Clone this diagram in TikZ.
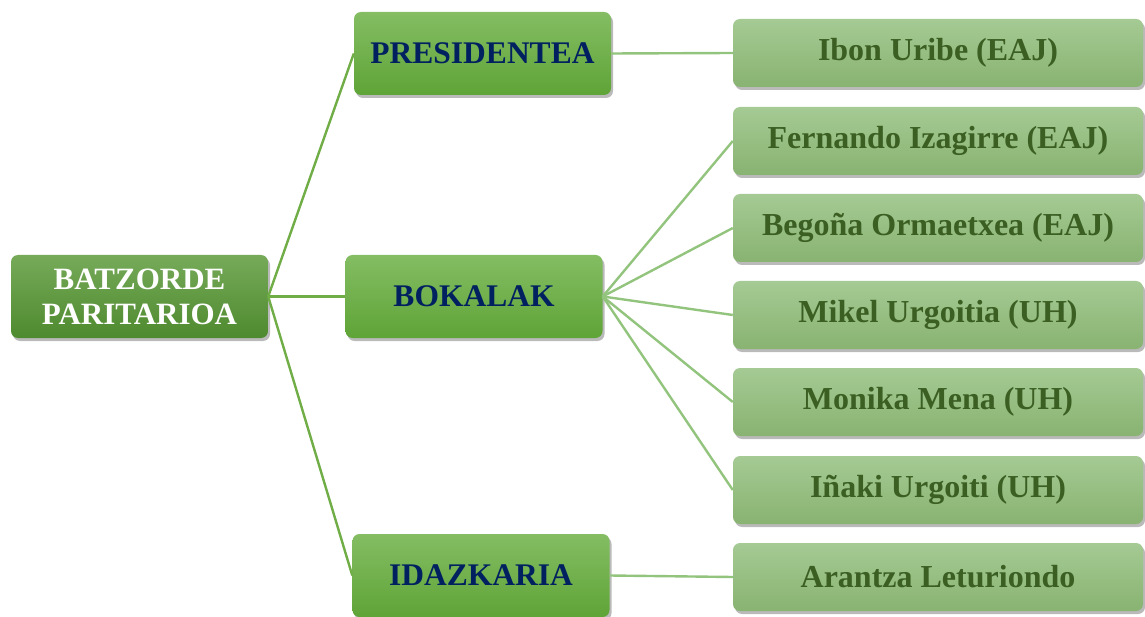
\documentclass[tikz,border=0pt]{standalone}
\usepackage{fontspec}
\setmainfont{Liberation Serif}
\usetikzlibrary{shadows,positioning}
\definecolor{erroberdea}{HTML}{5E9B3C}
\definecolor{erroberdeilun}{HTML}{4E8A2E}
\definecolor{kargugoi}{HTML}{84BD63}
\definecolor{kargubehe}{HTML}{5FA437}
\definecolor{kidegoi}{HTML}{A5CA94}
\definecolor{kidebehe}{HTML}{88B371}
\definecolor{urdinilun}{HTML}{002060}
\definecolor{berdeilun}{HTML}{3B5E23}
\definecolor{lerroa}{HTML}{70AD47}
\definecolor{lerroargi}{HTML}{93C47D}

\begin{document}
\begin{tikzpicture}[x=1pt,y=-1pt]
%
% Styles
%
\tikzset{kutxa/.style={rounded corners=7pt, align=center, inner sep=0pt,%
    drop shadow={shadow xshift=2pt, shadow yshift=-3pt, opacity=0.45, fill=black!60}}};%
\tikzset{erroa/.style={kutxa, top color=erroberdea!85!white, bottom color=erroberdeilun,%
    minimum width=257pt, minimum height=83pt, text=white,%
    font=\fontsize{31}{35}\selectfont\bfseries}};%
\tikzset{kargua/.style={kutxa, top color=kargugoi, bottom color=kargubehe,%
    minimum width=257pt, minimum height=83pt, text=urdinilun,%
    font=\fontsize{31.5}{36}\selectfont\bfseries}};%
\tikzset{kidea/.style={kutxa, top color=kidegoi, bottom color=kidebehe,%
    minimum width=410pt, minimum height=68pt, text=berdeilun,%
    font=\fontsize{32}{36}\selectfont\bfseries}};%
\tikzset{lotura/.style={lerroa, line width=2.4pt}};%
\tikzset{lotura argi/.style={lerroargi, line width=2.4pt}};%

%
% Macros
%
\pgfmathsetmacro{\kidex}{938}%
\pgfmathsetmacro{\erdiy}{296.5}%

\useasboundingbox (0,0) rectangle (1145,617);%

%
% Boxes
%
\node[erroa] (batzordea) at (139.5,\erdiy) {BATZORDE\\PARITARIOA};%
\node[kargua] (presidentea) at (482.5,53.5) {PRESIDENTEA};%
\node[kargua] (bokalak) at (474,\erdiy) {BOKALAK};%
\node[kargua] (idazkaria) at (481,575.5) {IDAZKARIA};%

\node[kidea] (ibon) at (\kidex,53) {Ibon Uribe (EAJ)};%
\foreach \izena/\y [count=\i] in {Fernando Izagirre (EAJ)/141,%
    Begoña Ormaetxea (EAJ)/228, Mikel Urgoitia (UH)/315,%
    Monika Mena (UH)/402, Iñaki Urgoiti (UH)/490}%
  \node[kidea] (bokala\i) at (\kidex,\y) {\izena};%
\node[kidea] (arantza) at (\kidex,577) {Arantza Leturiondo};%

%
% Connectors
%
\draw[lotura] (batzordea.east) -- (presidentea.west);%
\draw[lotura] (batzordea.east) -- (bokalak.west);%
\draw[lotura] (batzordea.east) -- (idazkaria.west);%
\draw[lotura argi] (presidentea.east) -- (ibon.west);%
\foreach \i in {1,...,5}%
  \draw[lotura argi] (bokalak.east) -- (bokala\i.west);%
\draw[lotura argi] (idazkaria.east) -- (arantza.west);%
\end{tikzpicture}
\end{document}
